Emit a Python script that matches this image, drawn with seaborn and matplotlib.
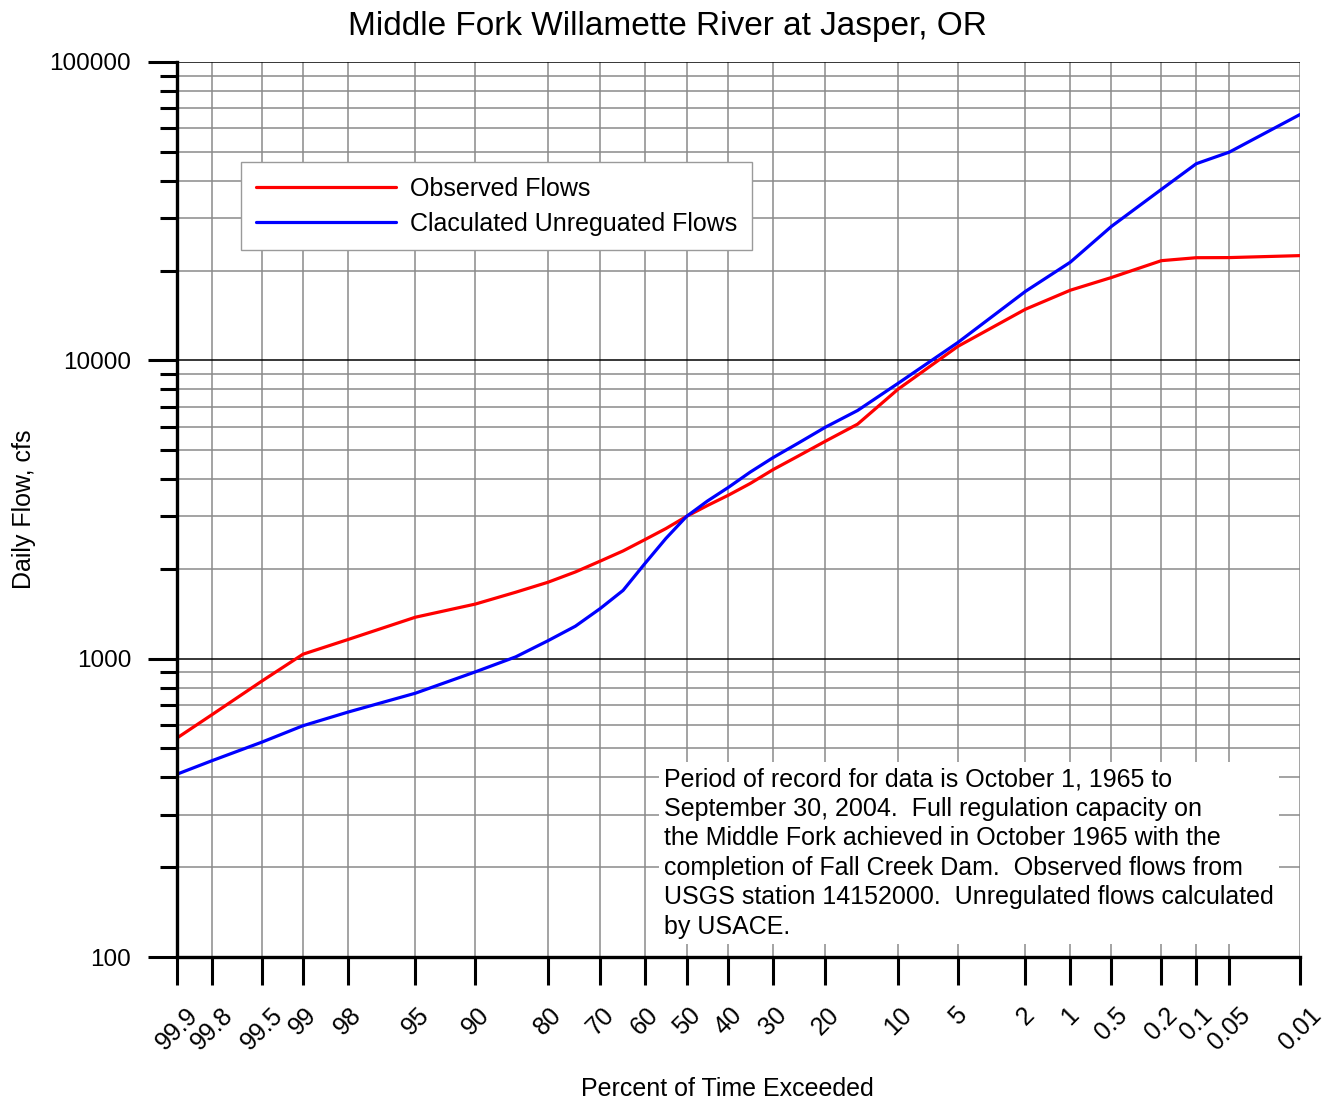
import numpy as np
import pandas as pd
import matplotlib
matplotlib.use("Agg")
import matplotlib.pyplot as plt
from matplotlib.ticker import FixedLocator, FixedFormatter, NullFormatter, LogLocator
from matplotlib.lines import Line2D
import seaborn as sns
from statistics import NormalDist

# ---------------- data ----------------
percent_exceeded = [99.9, 99.8, 99.5, 99, 98, 95, 90, 85, 80, 75, 70, 65, 60, 55, 50,
                    45, 40, 35, 30, 25, 20, 15, 10, 5, 2, 1, 0.5, 0.2, 0.1, 0.05, 0.01]
observed_flows = [542, 649, 841, 1035, 1159, 1377, 1524, 1670, 1803, 1953, 2123, 2297, 2506, 2730, 3000,
                  3260, 3532, 3865, 4303, 4770, 5358, 6110, 8000, 11140, 14830, 17180, 18950, 21580,
                  22080, 22100, 22440]
unregulated_flows = [410, 455, 525, 596, 662, 766, 903, 1014, 1148, 1285, 1472, 1694, 2083, 2530, 3000,
                     3375, 3752, 4220, 4721, 5270, 5970, 6790, 8370, 11480, 17020, 21330, 28120, 37400,
                     45610, 49880, 66680]
series_names = ["Observed Flows", "Claculated Unreguated Flows"]
x_ticks = [99.9, 99.8, 99.5, 99, 98, 95, 90, 80, 70, 60, 50, 40, 30, 20, 10, 5, 2, 1, 0.5, 0.2, 0.1, 0.05, 0.01]
x_tick_labels = ["99.9", "99.8", "99.5", "99", "98", "95", "90", "80", "70", "60", "50", "40", "30",
                 "20", "10", "5", "2", "1", "0.5", "0.2", "0.1", "0.05", "0.01"]
y_ticks = [100, 1000, 10000, 100000]
y_tick_labels = ["100", "1000", "10000", "100000"]
title = "Middle Fork Willamette River at Jasper, OR"
note = ("Period of record for data is October 1, 1965 to\n"
        "September 30, 2004.  Full regulation capacity on\n"
        "the Middle Fork achieved in October 1965 with the\n"
        "completion of Fall Creek Dam.  Observed flows from\n"
        "USGS station 14152000.  Unregulated flows calculated\n"
        "by USACE.")

df = pd.DataFrame({
    "exceed": percent_exceeded * 2,
    "flow": observed_flows + unregulated_flows,
    "series": [series_names[0]] * len(percent_exceeded) + [series_names[1]] * len(percent_exceeded),
})

# ---------------- style ----------------
sns.set_style("white")
plt.rcParams["font.family"] = ["Liberation Sans", "DejaVu Sans"]
for k in ["text.color", "axes.labelcolor", "xtick.color", "ytick.color"]:
    plt.rcParams[k] = "black"

# normal-probability scale (monotonic increasing in percent)
nd = NormalDist()
_fwd = np.vectorize(lambda v: nd.inv_cdf(v / 100.0), otypes=[float])
_inv = np.vectorize(lambda v: 100.0 * nd.cdf(v), otypes=[float])


def prob_forward(p):
    p = np.clip(np.asarray(p, dtype=float), 1e-9, 100 - 1e-9)
    return _fwd(p)


def prob_inverse(z):
    z = np.asarray(z, dtype=float)
    return _inv(z)


fig = plt.figure(figsize=(13.25, 11.01), dpi=100)
ax = fig.add_axes([177 / 1325, 1 - 957 / 1101, (1300 - 177) / 1325, (957 - 62) / 1101])
ax.set_xscale("function", functions=(prob_forward, prob_inverse))
ax.set_yscale("log")

sns.lineplot(data=df, x="exceed", y="flow", hue="series", estimator=None, sort=False,
             palette={series_names[0]: "#ff0000", series_names[1]: "#0000ff"},
             linewidth=2.3, ax=ax, legend=False, zorder=4)

ax.set_xlim(99.9, 0.01)
ax.set_ylim(100, 100000)

# axes / ticks
ax.xaxis.set_major_locator(FixedLocator(x_ticks))
ax.xaxis.set_major_formatter(FixedFormatter(x_tick_labels))
ax.xaxis.set_minor_locator(FixedLocator([]))
ax.yaxis.set_major_locator(FixedLocator(y_ticks))
ax.yaxis.set_major_formatter(FixedFormatter(y_tick_labels))
ax.yaxis.set_minor_locator(LogLocator(base=10, subs=np.arange(2, 10)))
ax.yaxis.set_minor_formatter(NullFormatter())

ax.tick_params(axis="x", which="major", direction="out", length=20, width=2.2, color="black",
               labelsize=18, pad=13, bottom=True)
ax.tick_params(axis="y", which="major", direction="out", length=21, width=2.2, color="black",
               labelsize=17.5, pad=12, left=True)
ax.tick_params(axis="y", which="minor", direction="out", length=12, width=2.2, color="black", left=True)
for lab in ax.get_xticklabels():
    lab.set_rotation(45)
    lab.set_ha("center")
    lab.set_va("top")

for side in ["top", "right"]:
    ax.spines[side].set_visible(False)
for side in ["left", "bottom"]:
    ax.spines[side].set_linewidth(2.4)
    ax.spines[side].set_color("black")
    ax.spines[side].set_zorder(5)

ax.grid(which="major", axis="x", color="#8a8a8a", linewidth=1.1)
ax.grid(which="major", axis="y", color="black", linewidth=1.1)
ax.grid(which="minor", axis="y", color="#8a8a8a", linewidth=1.1)
ax.set_axisbelow(True)

ax.set_xlabel("Percent of Time Exceeded", fontsize=18)
ax.xaxis.set_label_coords((727 - 177) / 1123, -(1077 - 957) / 895)
ax.set_ylabel("Daily Flow, cfs", fontsize=18)
ax.yaxis.set_label_coords(-(177 - 36) / 1123, 0.5)

fig.suptitle(title, x=667 / 1325, y=1 - 27 / 1101, va="center", fontsize=24)

# legend
handles = [Line2D([], [], color="#ff0000", lw=2.3), Line2D([], [], color="#0000ff", lw=2.3)]
leg = ax.legend(handles, series_names, loc="upper left",
                bbox_to_anchor=((241 - 177) / 1123, (957 - 162) / 895),
                borderaxespad=0, fontsize=18, frameon=True, fancybox=False, framealpha=1,
                edgecolor="#9a9a9a", handlelength=5.6, handletextpad=0.6, labelspacing=0.45,
                borderpad=0.58)
leg.get_frame().set_linewidth(1.0)
leg.set_zorder(6)

# annotation box
ax.text((664 - 177) / 1123, (957 - 767) / 895, note, transform=ax.transAxes, ha="left", va="top",
        fontsize=18, linespacing=1.29, zorder=6,
        bbox=dict(boxstyle="square,pad=0.2", facecolor="white", edgecolor="none"))

fig.savefig("out.png", dpi=100)
